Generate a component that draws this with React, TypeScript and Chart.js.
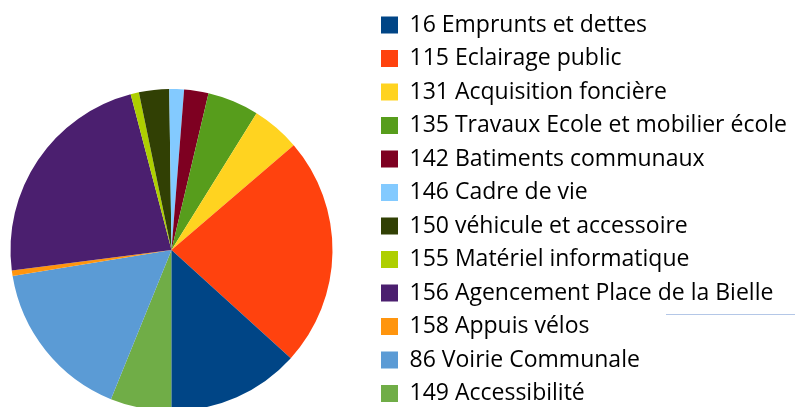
import React, { useEffect, useRef } from "react";
import { Chart, registerables } from "chart.js";

Chart.register(...registerables);

const categories = [
  "16 Emprunts et dettes",
  "115 Eclairage public",
  "131 Acquisition foncière",
  "135 Travaux Ecole et mobilier école",
  "142 Batiments communaux",
  "146 Cadre de vie",
  "150 véhicule et accessoire",
  "155 Matériel informatique",
  "156 Agencement Place de la Bielle",
  "158 Appuis vélos",
  "86 Voirie Communale",
  "149 Accessibilité",
];

const values = [47.8, 82.8, 17.5, 18.6, 8.8, 5.3, 10.9, 3.0, 82.6, 2.0, 58.6, 22.1];

const colors = [
  "#004586",
  "#FF420E",
  "#FFD320",
  "#579D1C",
  "#7E0021",
  "#83CAFF",
  "#314004",
  "#AECF00",
  "#4B1F6F",
  "#FF950E",
  "#5B9BD5",
  "#70AD47",
];

function rev(a: any[]) {
  return a.slice().reverse();
}

// Let the legend text run to the canvas edge instead of being clipped
const widenLegend = {
  id: "widenLegend",
  afterLayout(chart: any) {
    const l = chart.legend;
    if (l) {
      l.right = chart.width;
      l.width = l.right - l.left;
    }
  },
};

export default function App() {
  const canvasRef = useRef<HTMLCanvasElement | null>(null);

  useEffect(() => {
    const canvas = canvasRef.current;
    if (!canvas) return;
    const chart = new Chart(canvas, {
      type: "pie",
      data: {
        labels: rev(categories),
        datasets: [
          {
            data: rev(values),
            backgroundColor: rev(colors),
            borderWidth: 0,
            radius: 161,
          } as any,
        ],
      },
      options: {
        responsive: false,
        animation: false,
        rotation: 180,
        layout: { padding: { top: 3, bottom: 0, left: 0.5, right: 26.5 } },
        plugins: {
          legend: {
            position: "right",
            align: "start",
            reverse: true,
            labels: {
              boxWidth: 17,
              boxHeight: 17,
              padding: 10.5,
              color: "#000",
              font: { family: '"Open Sans"', size: 23 },
            },
          },
          tooltip: { enabled: false },
        },
      },
      plugins: [widenLegend],
    });
    return () => chart.destroy();
  }, []);

  return (
    <div
      style={{
        position: "absolute",
        left: 0,
        top: 0,
        width: 795,
        height: 407,
        overflow: "hidden",
        background: "#fff",
      }}
    >
      <canvas
        ref={canvasRef}
        width={823}
        height={497}
        style={{ position: "absolute", left: -28, top: 0, width: 823, height: 497 }}
      />
      <div
        style={{
          position: "absolute",
          left: 666,
          top: 314,
          width: 129,
          height: 1,
          background: "#B4C7E7",
        }}
      />
    </div>
  );
}
